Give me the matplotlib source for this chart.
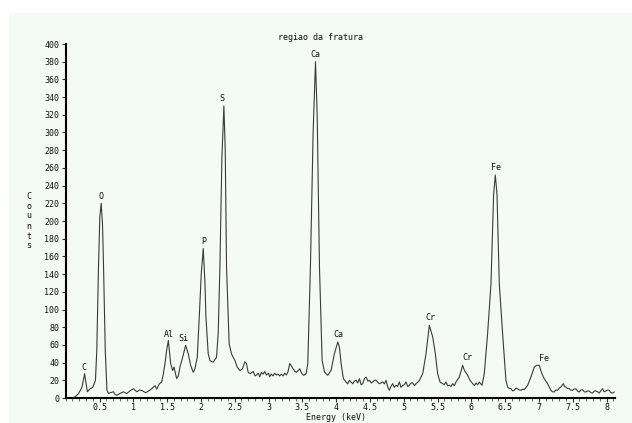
import matplotlib
matplotlib.use("Agg")
import matplotlib.pyplot as plt
from matplotlib.patches import Rectangle
from matplotlib.ticker import MultipleLocator

# ---- data ----
energy_kev = [
    0.02, 0.12, 0.19, 0.24, 0.28, 0.32, 0.36, 0.40, 0.44, 0.46, 0.485, 0.505, 0.525,
    0.545, 0.56, 0.585, 0.61, 0.633, 0.66, 0.707, 0.73, 0.756, 0.80, 0.854, 0.903, 0.95,
    1.002, 1.051, 1.09, 1.125, 1.184, 1.248, 1.28, 1.321, 1.346, 1.385, 1.42, 1.444,
    1.469, 1.495, 1.518, 1.535, 1.553, 1.582, 1.602, 1.641, 1.666, 1.69, 1.73, 1.774,
    1.813, 1.848, 1.887, 1.912, 1.946, 1.976, 2.005, 2.035, 2.06, 2.074, 2.108, 2.133,
    2.16, 2.182, 2.231, 2.256, 2.281, 2.31, 2.34, 2.36, 2.379, 2.418, 2.453, 2.477,
    2.502, 2.536, 2.576, 2.615, 2.65, 2.674, 2.699, 2.733, 2.773, 2.80, 2.822, 2.85,
    2.871, 2.895, 2.92, 2.945, 2.969, 3.0, 3.018, 3.04, 3.068, 3.09, 3.117, 3.14, 3.166,
    3.19, 3.215, 3.24, 3.264, 3.29, 3.314, 3.34, 3.363, 3.39, 3.412, 3.44, 3.461, 3.49,
    3.52, 3.557, 3.581, 3.62, 3.66, 3.695, 3.72, 3.754, 3.793, 3.828, 3.877, 3.926,
    3.975, 4.025, 4.049, 4.074, 4.108, 4.148, 4.17, 4.197, 4.22, 4.246, 4.27, 4.296,
    4.32, 4.345, 4.37, 4.394, 4.42, 4.443, 4.47, 4.493, 4.52, 4.542, 4.565, 4.591,
    4.615, 4.64, 4.665, 4.69, 4.715, 4.739, 4.765, 4.788, 4.81, 4.837, 4.86, 4.887,
    4.91, 4.936, 4.96, 4.985, 5.01, 5.034, 5.06, 5.084, 5.11, 5.133, 5.16, 5.182,
    5.21, 5.232, 5.281, 5.33, 5.379, 5.429, 5.468, 5.502, 5.537, 5.576, 5.60, 5.626,
    5.65, 5.675, 5.70, 5.724, 5.75, 5.773, 5.823, 5.872, 5.897, 5.946, 5.98, 6.02,
    6.045, 6.069, 6.095, 6.118, 6.158, 6.192, 6.241, 6.291, 6.33, 6.355, 6.38, 6.414,
    6.463, 6.512, 6.537, 6.56, 6.586, 6.61, 6.635, 6.66, 6.685, 6.71, 6.734, 6.76,
    6.783, 6.833, 6.882, 6.931, 6.966, 7.005, 7.044, 7.079, 7.128, 7.177, 7.20, 7.227,
    7.25, 7.276, 7.30, 7.325, 7.36, 7.38, 7.399, 7.42, 7.448, 7.47, 7.498, 7.52, 7.547,
    7.57, 7.596, 7.62, 7.645, 7.67, 7.695, 7.72, 7.744, 7.77, 7.793, 7.82, 7.842, 7.87,
    7.892, 7.915, 7.941, 7.965, 7.99, 8.015, 8.039, 8.065, 8.089, 8.113,
]
counts = [
    0, 0, 5, 12, 27.5, 7, 10.5, 12, 20, 54, 148, 205, 220,
    195, 148, 54, 9, 5, 6, 7, 4, 3, 5, 7, 5, 8,
    10.5, 7, 9, 8.5, 6, 9, 11, 14, 10, 16, 18, 27,
    39, 55, 65, 52, 39, 31, 35, 22, 25, 35, 46, 59.5,
    50, 37, 29, 33, 46, 92, 140, 169, 130, 92, 50, 42.6,
    41, 40.6, 46, 73, 148, 270, 330, 280, 148, 61, 50, 46,
    42.6, 35, 31, 33, 41, 39, 29, 27.5, 30, 25, 26, 28,
    24, 29, 27, 30, 26, 28, 24, 27, 25, 28, 26, 27, 25,
    27, 25, 28, 26, 30, 39, 36, 33, 30, 29, 31, 33, 28,
    25.6, 27.5, 38.8, 148, 300, 380, 320, 148, 42.6, 29.4, 25.6, 31.3,
    50.1, 63.3, 57.4, 38.8, 21.8, 18.1, 16, 20, 18, 16.2, 19, 20,
    17, 21.8, 15, 16.2, 22, 23.7, 19, 20, 17, 18.1, 20, 20,
    18, 16.2, 17, 18.1, 16, 20, 12, 8.7, 13, 16.2, 12, 14.3,
    13, 18.1, 12, 14.3, 15, 18.1, 13, 14.3, 17, 16.9, 14, 16.2,
    18, 20, 27.5, 50.1, 82.1, 68.9, 50.1, 27.5, 18.1, 16.2, 15, 18.1,
    14, 14.3, 13, 16.2, 14, 18.1, 23.7, 36.9, 31.3, 25.6, 20, 16.2,
    14, 16.9, 15, 18.1, 14.3, 27.5, 72.7, 129, 230, 252, 230, 129,
    72.7, 20, 12.4, 11, 10.5, 8, 8.7, 11, 10.5, 9, 8.7, 10,
    9.4, 14.3, 23.7, 35, 36.9, 36.9, 27.5, 21.8, 16.2, 8.7, 7, 6.8,
    9, 8.7, 11, 12.4, 16.2, 13, 12.4, 11, 10.5, 9, 8.7, 10, 10.5,
    8, 6.8, 9, 9.4, 7, 6.8, 8, 7.9, 6, 5.6, 8, 7.9, 7,
    5.6, 8, 10.5, 7, 7.9, 9, 8.7, 6, 5.6, 6.8,
]

peak_labels = ["C", "O", "Al", "Si", "P", "S", "Ca", "Ca", "Cr", "Cr", "Fe", "Fe"]
label_energy = [0.27, 0.52, 1.52, 1.74, 2.04, 2.31, 3.70, 4.03, 5.39, 5.94, 6.37, 7.07]
label_counts = [35, 228, 72, 67, 177, 338, 388, 72, 91, 46, 260, 45]

y_ticks = list(range(0, 401, 20))
x_ticks = [0.5, 1, 1.5, 2, 2.5, 3, 3.5, 4, 4.5, 5, 5.5, 6, 6.5, 7, 7.5, 8]
x_tick_labels = ["0.5", "1", "1.5", "2", "2.5", "3", "3.5", "4", "4.5", "5",
                 "5.5", "6", "6.5", "7", "7.5", "8"]

title = "regiao da fratura"
x_label = "Energy (keV)"
y_label = "Counts"

# ---- figure ----
W, H = 632, 423
fig = plt.figure(figsize=(W / 100, H / 100), dpi=100)
fig.patch.set_facecolor("white")
bg = "#f4fbf4"
fig.patches.append(Rectangle((9 / W, 0), 1 - 9 / W, 1 - 13 / H, transform=fig.transFigure,
                             facecolor=bg, edgecolor="none", zorder=-10))

x0, x1 = 65.7, 615.3
y0, y1 = 398, 44
ax = fig.add_axes([x0 / W, (H - y0) / H, (x1 - x0) / W, (y0 - y1) / H])
ax.set_facecolor("none")
ax.set_xlim(0, 8.13)
ax.set_ylim(0, 400)

ax.plot(energy_kev, counts, color="#3a3a3a", lw=0.8)

font = "DejaVu Sans Mono"
fs = 6
for lab, e, c in zip(peak_labels, label_energy, label_counts):
    ax.text(e, c, lab, ha="center", va="center", fontsize=fs, family=font, color="#111111")

for s in ["top", "right"]:
    ax.spines[s].set_visible(False)
for s in ["left", "bottom"]:
    ax.spines[s].set_linewidth(1.5)
    ax.spines[s].set_color("black")

ax.set_yticks(y_ticks)
ax.set_yticklabels([str(v) for v in y_ticks], fontsize=fs, family=font, color="#111111")
ax.set_xticks(x_ticks)
ax.set_xticklabels(x_tick_labels, fontsize=fs, family=font, color="#111111")
ax.xaxis.set_minor_locator(MultipleLocator(0.1))
ax.tick_params(axis="y", which="major", length=3, width=0.8, pad=1.5, color="#333333")
ax.tick_params(axis="x", which="major", length=3, width=0.8, pad=0.5, color="#333333")
ax.tick_params(axis="x", which="minor", length=2, width=0.6, color="#555555")

fig.text(321 / W, 1 - 37 / H, title, ha="center", va="center", fontsize=fs, family=font,
         color="#111111")
fig.text(336 / W, 1 - 417 / H, x_label, ha="center", va="center", fontsize=fs, family=font,
         color="#111111")
for i, ch in enumerate(y_label):
    fig.text(29 / W, 1 - (196 + i * 10) / H, ch, ha="center", va="center", fontsize=fs,
             family=font, color="#111111")

fig.savefig("out.png", dpi=100, facecolor=fig.get_facecolor())
